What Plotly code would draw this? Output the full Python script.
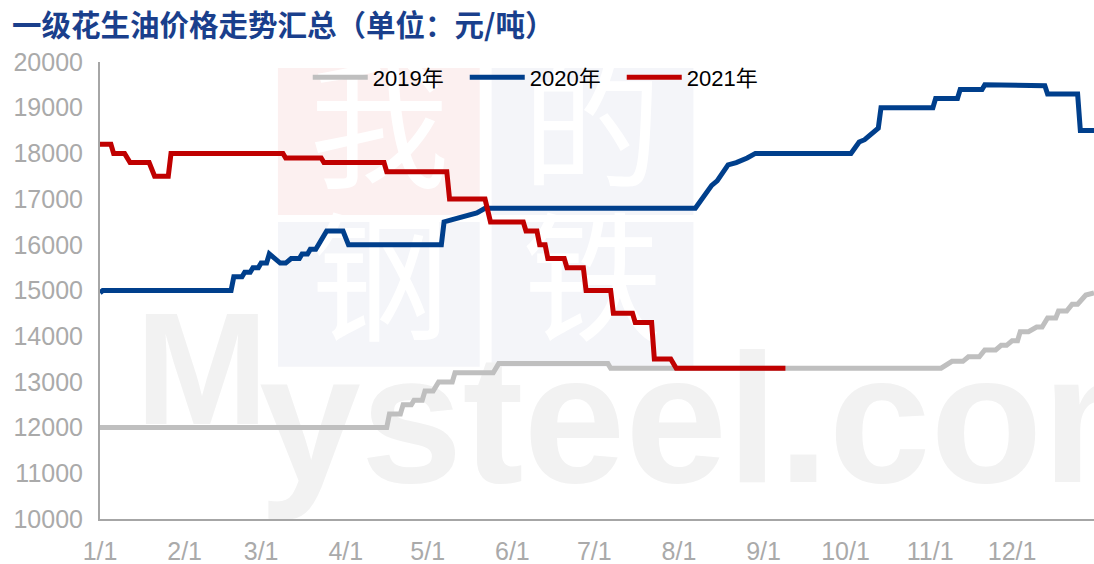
import plotly.graph_objects as go

# ---------------- data ----------------
BASE_YEAR = 2021  # common calendar year used to overlay the seasons

month_ticks = ["01-01", "02-01", "03-01", "04-01", "05-01", "06-01",
               "07-01", "08-01", "09-01", "10-01", "11-01", "12-01"]
month_labels = ["1/1", "2/1", "3/1", "4/1", "5/1", "6/1",
                "7/1", "8/1", "9/1", "10/1", "11/1", "12/1"]

y2019_dates = ["01-01", "04-16", "04-17", "04-21", "04-22", "04-25", "04-26", "04-29",
               "04-30", "05-03", "05-05", "05-10", "05-11", "05-25", "05-27", "07-06",
               "07-07", "11-05", "11-09", "11-13", "11-15", "11-19", "11-21", "11-25",
               "11-27", "11-29", "12-01", "12-03", "12-04", "12-07", "12-10", "12-12",
               "12-14", "12-17", "12-18", "12-21", "12-23", "12-25", "12-28", "12-31"]
y2019_vals = [12000, 12000, 12300, 12300, 12500, 12500, 12600, 12600,
              12800, 12800, 13000, 13000, 13200, 13200, 13400, 13400,
              13300, 13300, 13450, 13450, 13550, 13550, 13700, 13700,
              13800, 13800, 13900, 13900, 14100, 14100, 14200, 14200,
              14400, 14400, 14550, 14550, 14700, 14700, 14900, 14950]

y2020_dates = ["01-01", "01-02", "02-18", "02-19", "02-22", "02-23", "02-25", "02-26",
               "02-28", "03-01", "03-03", "03-04", "03-08", "03-10", "03-12", "03-15",
               "03-16", "03-18", "03-19", "03-21", "03-22", "03-25", "03-31", "04-02",
               "05-06", "05-07", "05-10", "05-13", "05-16", "05-19", "05-22", "08-07",
               "08-13", "08-15", "08-19", "08-22", "08-26", "08-29", "10-03", "10-06",
               "10-08", "10-13", "10-14", "11-02", "11-03", "11-11", "11-12", "11-20",
               "11-21", "12-04", "12-13", "12-14", "12-25", "12-26", "12-31"]
y2020_vals = [14950, 15000, 15000, 15300, 15300, 15400, 15400, 15500,
              15500, 15600, 15600, 15800, 15600, 15600, 15700, 15700,
              15800, 15800, 15900, 15900, 16000, 16300, 16300, 16000,
              16000, 16500, 16550, 16600, 16650, 16700, 16800, 16800,
              17300, 17400, 17750, 17800, 17900, 18000, 18000, 18250,
              18300, 18550, 19000, 19000, 19200, 19200, 19400, 19400,
              19500, 19500, 19480, 19300, 19300, 18500, 18500]

y2021_dates = ["01-01", "01-05", "01-06", "01-10", "01-12", "01-19", "01-21", "01-26",
               "01-27", "03-09", "03-10", "03-23", "03-24", "04-15", "04-16", "05-08",
               "05-09", "05-22", "05-24", "06-05", "06-06", "06-10", "06-11", "06-13",
               "06-14", "06-20", "06-21", "06-27", "06-28", "07-07", "07-08", "07-15",
               "07-16", "07-22", "07-23", "07-29", "07-31", "09-09"]
y2021_vals = [18200, 18200, 18000, 18000, 17800, 17800, 17500, 17500,
              18000, 18000, 17900, 17900, 17800, 17800, 17600, 17600,
              17000, 17000, 16500, 16500, 16300, 16300, 16000, 16000,
              15700, 15700, 15500, 15500, 15000, 15000, 14500, 14500,
              14300, 14300, 13500, 13500, 13300, 13300]

series_names = ["2019年", "2020年", "2021年"]
series_colors = ["#bfbfbf", "#003f8c", "#c00000"]

title_text = "一级花生油价格走势汇总（单位：元/吨）"


def on_base_year(md_list):
    return [f"{BASE_YEAR}-{md}" for md in md_list]


fig = go.Figure()

# ---------------- watermark (drawn on a hidden base axis, beneath the data) ----------------
fig.add_trace(go.Scatter(
    x=[0.281, 0.495, 0.281, 0.495], y=[0.826, 0.826, 0.491, 0.491],
    text=["我", "的", "钢", "铁"], mode="text",
    textfont=dict(size=140, color="#ffffff", family="Noto Sans CJK SC"),
    xaxis="x", yaxis="y", showlegend=False, hoverinfo="skip"))
fig.add_trace(go.Scatter(
    x=[0.1026], y=[0.295], text=["M"], mode="text", textposition="middle center",
    textfont=dict(size=160, color="#f2f2f2", family="Liberation Sans", weight="bold"),
    xaxis="x", yaxis="y", showlegend=False, hoverinfo="skip"))
fig.add_trace(go.Scatter(
    x=[0.160], y=[0.180], text=["ysteel.com"], mode="text", textposition="middle right",
    textfont=dict(size=183, color="#f2f2f2", family="Liberation Sans", weight="bold"),
    xaxis="x", yaxis="y", showlegend=False, hoverinfo="skip"))

# ---------------- data lines ----------------
all_dates = [y2019_dates, y2020_dates, y2021_dates]
all_vals = [y2019_vals, y2020_vals, y2021_vals]
for name, color, d, v in zip(series_names, series_colors, all_dates, all_vals):
    fig.add_trace(go.Scatter(
        x=on_base_year(d), y=v, name=name, mode="lines",
        line=dict(color=color, width=5),
        xaxis="x2", yaxis="y2"))

axis_gray = "#a6a6a6"
tick_font = dict(family="Liberation Sans Narrow, Liberation Sans, sans-serif", size=25, color="#aaaaaa")

fig.update_layout(
    width=1094, height=564,
    margin=dict(l=100, r=0, t=62, b=45, autoexpand=False),
    paper_bgcolor="white", plot_bgcolor="rgba(0,0,0,0)",
    showlegend=True,
    title=dict(text=title_text, x=0.011, xanchor="left", xref="container",
               y=0.955, yanchor="middle", yref="container",
               font=dict(family="Noto Sans CJK SC", size=29.5, color="#1a3f8c", weight="bold")),
    xaxis=dict(range=[0, 1], visible=False, fixedrange=True),
    yaxis=dict(range=[0, 1], visible=False, fixedrange=True),
    xaxis2=dict(overlaying="x", anchor="y2", type="date", automargin=False,
                range=[f"{BASE_YEAR}-01-01", f"{BASE_YEAR}-12-31"],
                tickmode="array", tickvals=on_base_year(month_ticks), ticktext=month_labels,
                showgrid=False, zeroline=False, showline=True, linecolor=axis_gray, linewidth=2,
                ticks="", ticklabelstandoff=9, tickfont=tick_font),
    yaxis2=dict(overlaying="y", anchor="x2", range=[10000, 20000], dtick=1000, automargin=False,
                tickformat="d", showgrid=False, zeroline=False, showline=True,
                linecolor=axis_gray, linewidth=2, ticks="", ticklabelstandoff=10,
                tickfont=tick_font),
    legend=dict(orientation="h", x=0.209, y=1.012, xanchor="left", yanchor="top",
                bgcolor="rgba(0,0,0,0)", font=dict(family="Liberation Sans, Noto Sans CJK SC",
                                                   size=22, color="#000000"),
                itemwidth=55, entrywidth=87, traceorder="normal"),
    shapes=[
        dict(type="rect", xref="paper", yref="paper", x0=0.179, x1=0.382, y0=0.665, y1=0.987,
             fillcolor="#fcf0f0", line=dict(width=0), layer="below"),
        dict(type="rect", xref="paper", yref="paper", x0=0.394, x1=0.597, y0=0.665, y1=0.987,
             fillcolor="#f4f5f9", line=dict(width=0), layer="below"),
        dict(type="rect", xref="paper", yref="paper", x0=0.179, x1=0.382, y0=0.333, y1=0.650,
             fillcolor="#f4f5f9", line=dict(width=0), layer="below"),
        dict(type="rect", xref="paper", yref="paper", x0=0.394, x1=0.597, y0=0.333, y1=0.650,
             fillcolor="#f4f5f9", line=dict(width=0), layer="below"),
    ],
)

fig.write_html("out.html", config={"displayModeBar": False},
               post_script="document.body.style.margin='0';document.body.style.overflow='hidden';")
